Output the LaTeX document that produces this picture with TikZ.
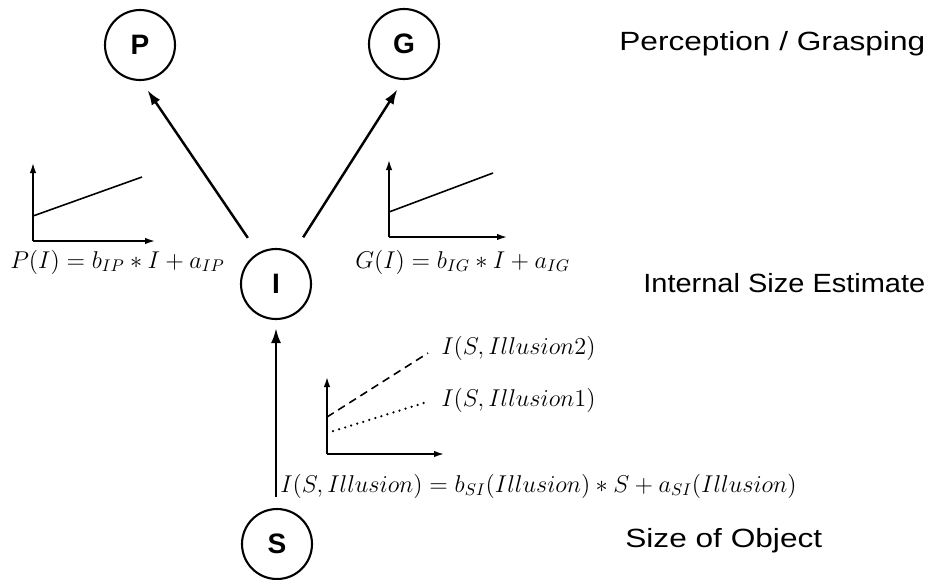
\documentclass[tikz,border=0pt]{standalone}
\usepackage{fontspec}
\usepackage{amsmath}
\usepackage{graphicx}
\setsansfont{Liberation Sans}
\usetikzlibrary{arrows.meta,positioning}
\newcommand{\wide}[2][1.2]{\scalebox{#1}[1]{#2}}

\begin{document}
\begin{tikzpicture}[x=0.02cm, y=-0.02cm,
state/.style={draw, circle, line width=1.2pt, minimum size=1.4cm, inner sep=0pt, font=\sffamily\bfseries\fontsize{16}{18}\selectfont},
arrow/.style={-{Latex[length=3mm, width=2mm]}, line width=1.4pt},
axis/.style={-{Latex[length=2mm, width=1.3mm]}, line width=0.9pt},
level/.style={anchor=base west, inner sep=0pt, font=\sffamily\fontsize{15}{18}\selectfont},
formula/.style={inner sep=0pt, scale=0.96, transform shape, font=\fontsize{14}{17}\selectfont}]
\useasboundingbox (0,0) rectangle (932,579);
\node[state] (p) at (140,45) {P};
\node[state] (g) at (404,44) {G};
\node[state] (i) at (276,284) {I};
\node[state] (s) at (277,544) {S};
\draw[arrow, shorten <=0.36cm, shorten >=0.22cm] (i.120) -- (p.-88);
\draw[arrow, shorten <=0.36cm, shorten >=0.22cm] (i.61) -- (g.-91);
\draw[arrow, shorten <=0.22cm, shorten >=0.16cm] (i.south |- s.north) -- (i.south);
% perception plot
\draw[axis] (33,241) -- (33,163);
\draw[axis] (33,241) -- (155,241);
\draw[line width=0.9pt] (33,216) -- (142,177);
\node[formula, anchor=base west] (pf) at (10,268) {$P(I) = b_{IP} * I + a_{IP}$};
% grasping plot
\draw[axis] (389,237) -- (389,160);
\draw[axis] (389,237) -- (507,237);
\draw[line width=0.9pt] (389,212) -- (493,173);
\node[formula, anchor=base west] (gf) at (355,268) {$G(I) = b_{IG} * I + a_{IG}$};
% size plot
\draw[axis] (327,454) -- (327,377);
\draw[axis] (327,454) -- (444,454);
\draw[line width=0.9pt, dash pattern=on 4.5pt off 3pt] (327,417) -- (428,353);
\draw[line width=1.4pt, line cap=round, dash pattern=on 0pt off 3.6pt] (327,433) -- (427,402);
\node[formula, anchor=west] (s2) at (441,348) {$I(S,Illusion2)$};
\node[formula, anchor=west] (s1) at (441,400) {$I(S,Illusion1)$};
\node[formula, anchor=base west] (sf) at (280,492) {$I(S,Illusion) = b_{SI}(Illusion) * S + a_{SI}(Illusion)$};
% levels
\node[level] (lt) at (619,50) {\wide{Perception / Grasping}};
\node[level] (lm) at (643,292) {\wide[1.1]{Internal Size Estimate}};
\node[level] (lb) at (625,547) {\wide{Size of Object}};
\end{tikzpicture}
\end{document}
